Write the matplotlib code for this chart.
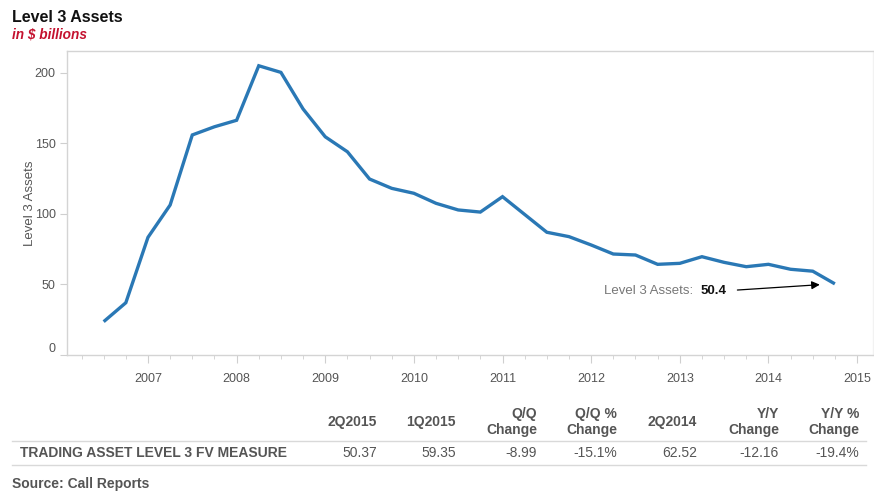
import matplotlib
matplotlib.use("Agg")
import matplotlib.pyplot as plt
from matplotlib.ticker import MultipleLocator

plt.rcParams['font.family'] = ['Liberation Sans', 'DejaVu Sans']

# Quarterly Level 3 trading assets, $ billions
quarters = [2006.5 + 0.25 * i for i in range(34)]
assets = [23.6, 37.0, 83.3, 106.2, 155.8, 161.6, 166.2, 204.8, 200.1, 174.2,
          154.5, 143.9, 124.6, 118.0, 114.5, 107.4, 102.7, 101.2, 112.1, 99.5,
          86.9, 83.8, 77.9, 71.5, 70.8, 64.2, 64.9, 69.6, 65.6, 62.52,
          64.2, 60.7, 59.35, 50.37]

year_ticks = list(range(2007, 2016))
y_ticks = [0, 50, 100, 150, 200]

# Summary table
col_headers = ["2Q2015", "1Q2015", "Q/Q\nChange", "Q/Q %\nChange", "2Q2014",
               "Y/Y\nChange", "Y/Y %\nChange"]
row_label = "TRADING ASSET LEVEL 3 FV MEASURE"
row_values = ["50.37", "59.35", "-8.99", "-15.1%", "62.52", "-12.16", "-19.4%"]

W, H = 874, 491
fig = plt.figure(figsize=(W / 100, H / 100), dpi=100)


def fx(x):
    return x / W


def fy(y):
    return 1 - y / H


ax = fig.add_axes([fx(66.7), fy(355), fx(873) - fx(66.7), fy(50.5) - fy(355)])
line_color = "#2a78b5"
ax.plot(quarters, assets, color=line_color, lw=2.4, solid_joinstyle="miter",
        solid_capstyle="butt")

ax.set_xlim(2006.083, 2015.18)
ax.set_ylim(0, 215.6)
ax.set_xticks(year_ticks)
ax.set_xticklabels([str(y) for y in year_ticks])
ax.xaxis.set_minor_locator(MultipleLocator(0.25))
ax.set_yticks(y_ticks)
ax.set_yticklabels([str(v) for v in y_ticks])
for lbl in ax.get_yticklabels():
    if lbl.get_text() == "0":
        lbl.set_va("bottom")

grey_spine = "#d4d4d4"
ax.spines['left'].set_color(grey_spine)
ax.spines['bottom'].set_color(grey_spine)
ax.spines['top'].set_color(grey_spine)
ax.spines['right'].set_color("#f2f2f2")
for s in ax.spines.values():
    s.set_linewidth(1.0)

ax.tick_params(axis='x', which='major', length=6, color="#cfcfcf", labelsize=9,
               labelcolor="#555555", pad=7)
ax.tick_params(axis='x', which='minor', length=3, color="#cfcfcf")
ax.tick_params(axis='y', length=5, color="#cfcfcf", labelsize=9,
               labelcolor="#555555", pad=3)
ax.set_ylabel("Level 3 Assets", fontsize=9.5, color="#555555", labelpad=-1)

# Callout for the latest value
last_val = assets[-1]
ax.text(2015 - (857 - 604) / 88.625, 45.4, "Level 3 Assets:", fontsize=9.5,
        color="#777777", va="center", ha="left")
ax.text(2015 - (857 - 727) / 88.625, 45.4, f"{last_val:.1f}", fontsize=9.5,
        color="#111111", fontweight="bold", va="center", ha="right")
ax.annotate("", xy=(2014.58, 49.8), xytext=(2013.65, 46.0),
            arrowprops=dict(arrowstyle="-|>", color="black", lw=0.9,
                            mutation_scale=12, shrinkA=0, shrinkB=0))

# Title block
fig.text(fx(12), fy(18), "Level 3 Assets", fontsize=11.5, fontweight="bold",
         color="#111111", va="center", ha="left")
fig.text(fx(12), fy(35), "in $ billions", fontsize=9.8, fontweight="bold",
         style="italic", color="#c4122f", va="center", ha="left")

# Table below the chart
col_right = [377, 456, 537, 617, 697, 779, 859]
for xr, hdr, val in zip(col_right, col_headers, row_values):
    fig.text(fx(xr), fy(422), hdr, fontsize=10, fontweight="bold",
             color="#555555", ha="right", va="center", linespacing=1.2,
             multialignment="right")
    fig.text(fx(xr), fy(453), val, fontsize=10, color="#555555", ha="right",
             va="center")
fig.text(fx(20), fy(453), row_label, fontsize=10, fontweight="bold",
         color="#555555", ha="left", va="center")
for yl in (441, 465):
    fig.add_artist(plt.Line2D([fx(12), fx(866)], [fy(yl), fy(yl)],
                              color="#d9d9d9", lw=1.0))
fig.text(fx(12), fy(484), "Source: Call Reports", fontsize=10,
         fontweight="bold", color="#555555", ha="left", va="center")

fig.savefig("out.png", dpi=100, facecolor="white")
